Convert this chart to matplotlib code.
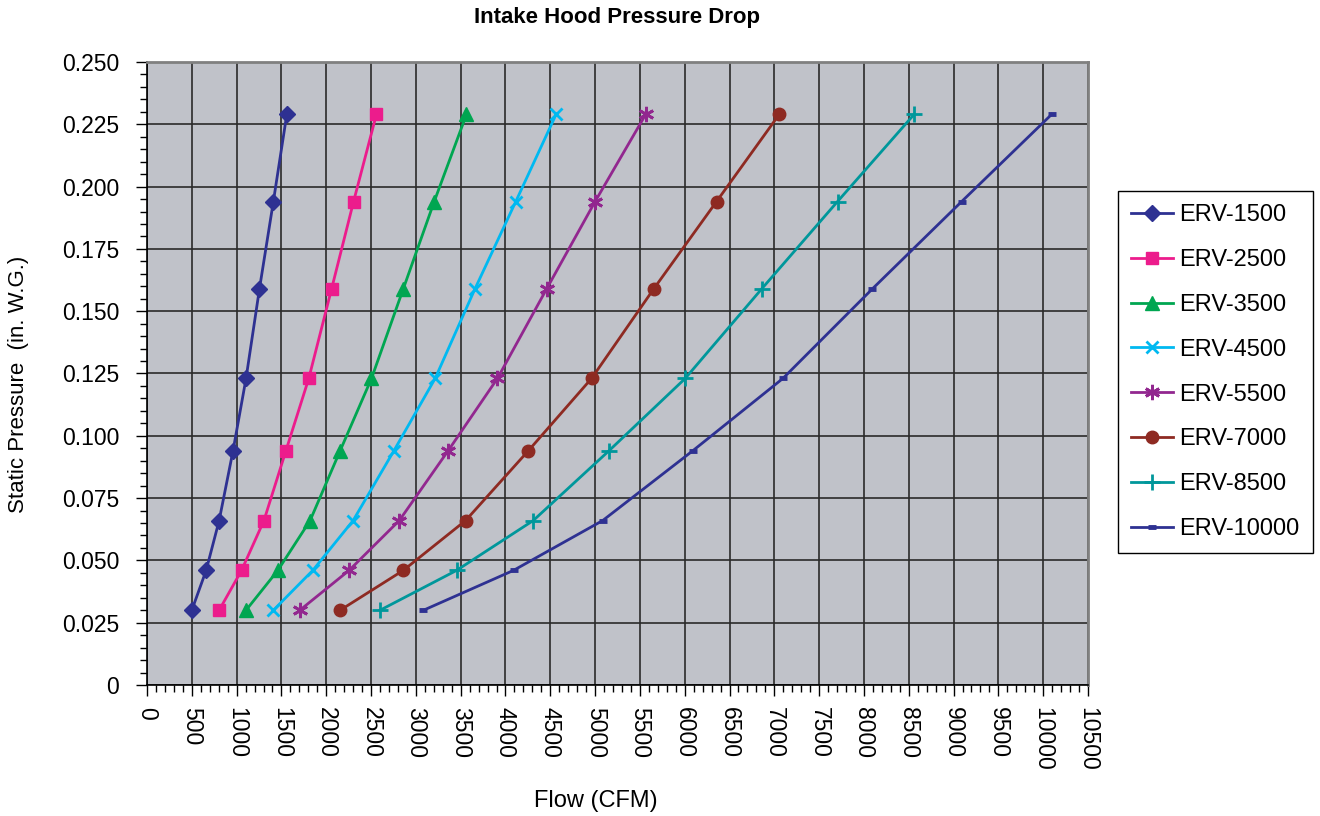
import numpy as np
import matplotlib
matplotlib.use("Agg")
import matplotlib.pyplot as plt
from matplotlib.ticker import MultipleLocator, FuncFormatter

plt.rcParams['font.family'] = ['Liberation Sans', 'DejaVu Sans']

# static pressure levels (in. W.G.), shared by every unit
pressure = [0.030, 0.046, 0.066, 0.094, 0.123, 0.159, 0.194, 0.229]

# flow (CFM) at each pressure level
erv_1500 = [500, 660, 805, 960, 1105, 1255, 1410, 1560]
erv_2500 = [805, 1055, 1305, 1550, 1805, 2060, 2305, 2560]
erv_3500 = [1105, 1460, 1820, 2155, 2505, 2860, 3205, 3565]
erv_4500 = [1410, 1850, 2300, 2755, 3215, 3660, 4115, 4565]
erv_5500 = [1705, 2255, 2815, 3360, 3910, 4460, 5000, 5565]
erv_7000 = [2155, 2860, 3555, 4255, 4960, 5655, 6355, 7055]
erv_8500 = [2600, 3455, 4310, 5155, 6005, 6860, 7705, 8560]
erv_10000 = [3085, 4090, 5085, 6090, 7095, 8095, 9090, 10095]

labels = ["ERV-1500", "ERV-2500", "ERV-3500", "ERV-4500",
          "ERV-5500", "ERV-7000", "ERV-8500", "ERV-10000"]
flows = [erv_1500, erv_2500, erv_3500, erv_4500,
         erv_5500, erv_7000, erv_8500, erv_10000]

styles = [
    dict(color="#2E3192", marker="D", ms=8),
    dict(color="#EC1C8C", marker="s", ms=8.5),
    dict(color="#00A651", marker="^", ms=9.5),
    dict(color="#00B9F1", marker="x", ms=9, mew=2),
    dict(color="#92278F", marker=(6, 2, 0), ms=11, mew=2),
    dict(color="#8E2A22", marker="o", ms=9),
    dict(color="#00979B", marker="+", ms=11, mew=2),
    dict(color="#2E3192", marker="_", ms=6, mew=3.5),
]

fig = plt.figure(figsize=(13.2, 8.16), dpi=100)
ax = fig.add_axes([147 / 1320, 1 - 685 / 816, (1088 - 147) / 1320, (685 - 62) / 816])
ax.set_facecolor("#C0C2C9")

for lab, fl, st in zip(labels, flows, styles):
    ax.plot(fl, pressure, label=lab, lw=2, zorder=3, **st)

ax.set_xlim(0, 10500)
ax.set_ylim(0, 0.25)
ax.xaxis.set_major_locator(MultipleLocator(500))
ax.xaxis.set_minor_locator(MultipleLocator(100))
ax.yaxis.set_major_locator(MultipleLocator(0.025))
ax.yaxis.set_minor_locator(MultipleLocator(0.005))
ax.yaxis.set_major_formatter(FuncFormatter(lambda v, p: "0" if abs(v) < 1e-9 else "%.3f" % v))
ax.xaxis.set_major_formatter(FuncFormatter(lambda v, p: "%d" % round(v)))

ax.grid(True, which="major", color="#2a2a2a", lw=1.2, zorder=1)
ax.set_axisbelow(True)

ax.tick_params(axis="both", which="major", direction="out", length=8, width=1, labelsize=16.5, color="black")
ax.tick_params(axis="both", which="minor", direction="out", length=5, width=1, color="black")
ax.tick_params(axis="x", which="major", pad=8)
ax.tick_params(axis="y", which="major", pad=12)
for t in ax.get_xticklabels():
    t.set_rotation(-90)

for side in ("top", "right"):
    ax.spines[side].set_color("#808080")
    ax.spines[side].set_linewidth(2)
for side in ("left", "bottom"):
    ax.spines[side].set_color("black")
    ax.spines[side].set_linewidth(1.2)

ax.set_xlabel("Flow (CFM)", fontsize=17)
ax.xaxis.set_label_coords((596 - 147) / 941, (685 - 790) / 623)
ax.set_ylabel("Static Pressure  (in. W.G.)", fontsize=16)
ax.yaxis.set_label_coords((29 - 147) / 941, 0.5 - (384 - 373.5) / 623)

fig.text(617 / 1320, 1 - 17 / 816, "Intake Hood Pressure Drop", fontsize=16, fontweight="bold",
         family=["Liberation Sans Narrow", "Liberation Sans"], ha="center", va="center")

leg = ax.legend(loc="upper left", bbox_to_anchor=(1118 / 1320, 1 - 191 / 816),
                bbox_transform=fig.transFigure, fontsize=17, frameon=True, fancybox=False,
                edgecolor="black", framealpha=1, handlelength=1.8, labelspacing=0.97,
                borderpad=0.55, handletextpad=0.25, borderaxespad=0)
leg.get_frame().set_linewidth(1)

fig.savefig("out.png", dpi=100)
